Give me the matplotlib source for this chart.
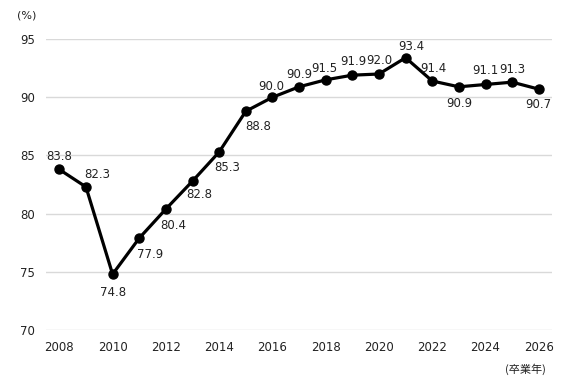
import matplotlib
matplotlib.use('Agg')
import matplotlib.pyplot as plt

years = [2008, 2009, 2010, 2011, 2012, 2013, 2014, 2015, 2016, 2017,
         2018, 2019, 2020, 2021, 2022, 2023, 2024, 2025, 2026]
rates = [83.8, 82.3, 74.8, 77.9, 80.4, 82.8, 85.3, 88.8, 90.0, 90.9,
         91.5, 91.9, 92.0, 93.4, 91.4, 90.9, 91.1, 91.3, 90.7]
x_ticks = list(range(2008, 2027, 2))
y_ticks = [70, 75, 80, 85, 90, 95]

# where each value label sits relative to its point (offset in points)
label_offsets = [(0, 9), (8, 9), (0, -13), (8, -12), (5, -12), (5, -10),
                 (6, -11), (9, -11), (-1, 8), (0, 9), (-1, 8), (1, 10),
                 (0, 10), (4, 8), (1, 9), (0, -12), (0, 10), (0, 9), (0, -11)]

plt.rcParams['font.family'] = ['DejaVu Sans', 'Noto Sans CJK JP']

fig = plt.figure(figsize=(5.68, 3.87), dpi=100)
ax = fig.add_axes([0.081, 0.147, 0.891, 0.752])

ax.plot(years, rates, color='black', lw=2.3, marker='o', ms=6.5, zorder=3)

for x, y, off in zip(years, rates, label_offsets):
    ax.annotate(f'{y:.1f}', (x, y), xytext=off, textcoords='offset points',
                ha='center', va='center', fontsize=8.5, color='#222222')

ax.set_xlim(2007.5, 2026.5)
ax.set_ylim(70, 95)
ax.set_xticks(x_ticks)
ax.set_yticks(y_ticks)
ax.tick_params(length=0, labelsize=8.5, colors='#222222', pad=8)
ax.grid(axis='y', color='#d9d9d9', lw=1)
ax.set_axisbelow(True)
for s in ax.spines.values():
    s.set_visible(False)

fig.text(26.5 / 568, 1 - 15 / 387, '(%)', fontsize=8, color='#222222',
         ha='center', va='center')
fig.text(525 / 568, 1 - 369 / 387, '(卒業年)', fontsize=8, color='#222222',
         ha='center', va='center', family=['Noto Sans CJK JP', 'DejaVu Sans'])

fig.savefig('out.png', dpi=100)
